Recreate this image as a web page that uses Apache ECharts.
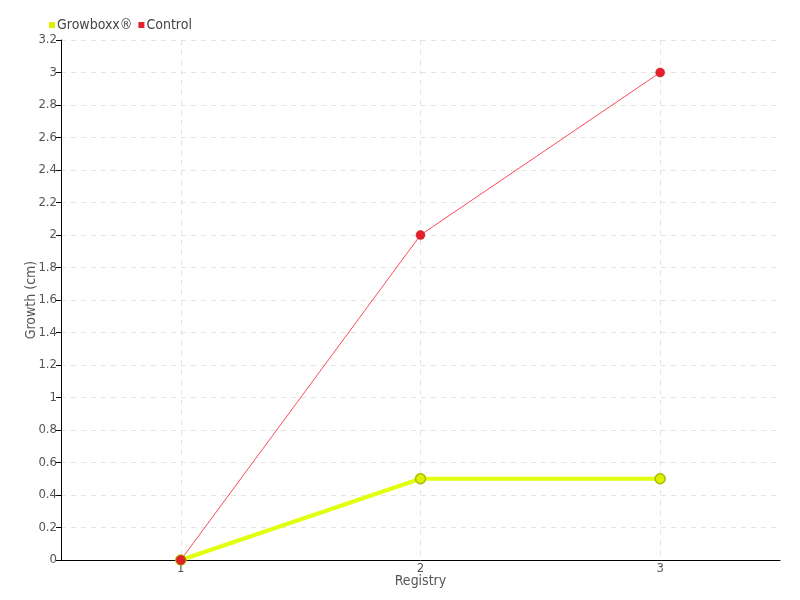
<!DOCTYPE html>
<html>
<head>
<meta charset="utf-8">
<script src="https://cdn.jsdelivr.net/npm/echarts@6/dist/echarts.min.js"></script>
<style>
	html, body { margin: 0; padding: 0; background: #fff; }
	#chart { width: 800px; height: 600px; }
</style>
</head>
<body>
<div id="chart"></div>
<script>
	var categories = ['1', '2', '3'];
	var growboxx = [0, 0.5, 0.5];
	var control = [0, 2, 3];

	var font = '"Liberation Sans Narrow", "DejaVu Sans Condensed", sans-serif';
	var myChart = echarts.init(document.getElementById('chart'));
	var option = {
		textStyle: { fontFamily: font },
		animation: false,
		legend: {
			left: 44,
			top: 13,
			itemWidth: 6,
			itemHeight: 6,
			itemGap: 6,
			icon: 'rect',
			itemStyle: { borderWidth: 0 },
			textStyle: { fontFamily: font, fontSize: 14, color: '#444', padding: [0, 0, 0, -3] },
			data: ['Growboxx®', 'Control']
		},
		grid: { left: 61, right: 20, top: 40, bottom: 40 },
		xAxis: {
			type: 'category',
			data: categories,
			name: 'Registry',
			nameLocation: 'middle',
			nameGap: 14,
			nameMoveOverlap: false,
			nameTextStyle: { fontFamily: font, fontSize: 14, color: '#555' },
			axisLine: { lineStyle: { color: '#000', width: 1 } },
			axisTick: { show: false, alignWithLabel: true },
			axisLabel: { fontFamily: font, fontSize: 13, color: '#555', margin: 2 },
			splitLine: { show: true, alignWithLabel: true, lineStyle: { color: '#e3e3e3', type: [5, 5] } }
		},
		yAxis: {
			type: 'value',
			min: 0,
			max: 3.2,
			interval: 0.2,
			name: 'Growth (cm)',
			nameLocation: 'middle',
			nameGap: 23,
			nameMoveOverlap: false,
			nameTextStyle: { fontFamily: font, fontSize: 14, color: '#555' },
			axisLine: { show: true, lineStyle: { color: '#000', width: 1 } },
			axisTick: { show: true, length: 5, lineStyle: { color: '#000' } },
			axisLabel: {
				fontFamily: font, fontSize: 13, color: '#555', margin: 4,
				formatter: function (v) { return String(Math.round(v * 10) / 10); }
			},
			splitLine: { show: true, lineStyle: { color: '#e3e3e3', type: [5, 5] } }
		},
		series: [{
			name: 'Growboxx®',
			type: 'line',
			data: growboxx,
			symbol: 'circle',
			symbolSize: 10,
			color: '#dcf000',
			lineStyle: { color: '#e2ff10', width: 4 },
			itemStyle: { color: '#dcf000', borderColor: '#a9bb00', borderWidth: 1.5 }
		}, {
			name: 'Control',
			type: 'line',
			data: control,
			symbol: 'circle',
			symbolSize: 9,
			color: '#e3202b',
			lineStyle: { color: '#ff4a5a', width: 1 },
			itemStyle: { color: '#e3202b', borderColor: '#c81822', borderWidth: 0.5 }
		}]
	};
	myChart.setOption(option);
</script>
</body>
</html>
